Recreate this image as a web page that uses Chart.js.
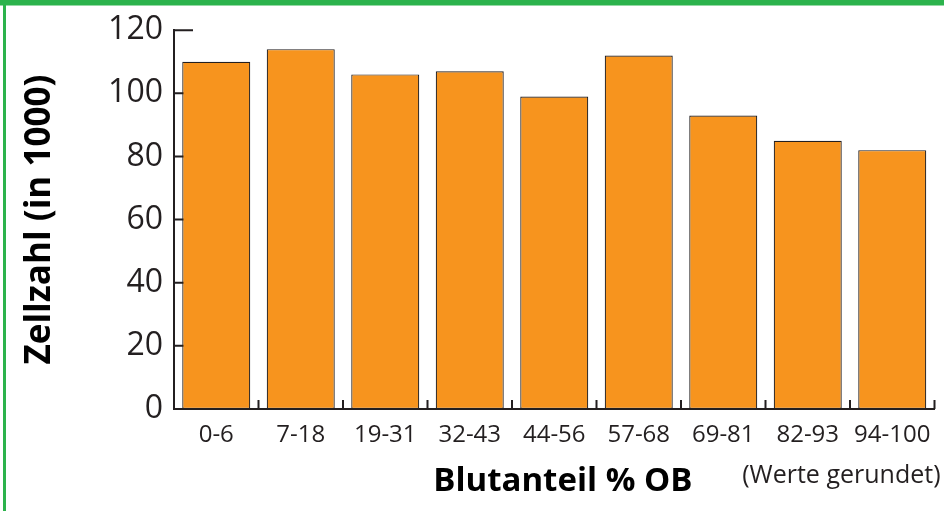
<!DOCTYPE html>
<html>
<head>
<meta charset="utf-8">
<script src="https://cdn.jsdelivr.net/npm/chart.js@4"></script>
<style>
  html, body { margin: 0; padding: 0; background: #fff; }
  canvas { display: block; }
</style>
</head>
<body>
<canvas id="graficoZellzahl" width="944" height="511"></canvas>
<script>
const kategorien = ['0-6', '7-18', '19-31', '32-43', '44-56', '57-68', '69-81', '82-93', '94-100'];
const zellzahl = [110, 114, 106, 107, 99, 112, 93, 85, 82];
const yTicks = [0, 20, 40, 60, 80, 100, 120];

const dunkel = '#231f20';
const gruen = '#2cb34c';

Chart.defaults.font.family = "'Open Sans', sans-serif";
Chart.defaults.color = dunkel;

// weisser Hintergrund + gruener Rahmen oben/links
const rahmen = {
  id: 'rahmen',
  beforeDraw(chart) {
    const { ctx, width, height } = chart;
    ctx.save();
    ctx.fillStyle = '#fff';
    ctx.fillRect(0, 0, width, height);
    ctx.fillStyle = gruen;
    ctx.fillRect(0, 0, width, 5.5);
    ctx.fillRect(3, 0, 3, height);
    ctx.restore();
  },
  afterDraw(chart) {
    const { ctx, chartArea } = chart;
    ctx.save();
    ctx.font = "25px 'Open Sans', sans-serif";
    ctx.fillStyle = dunkel;
    ctx.textAlign = 'right';
    ctx.textBaseline = 'middle';
    ctx.fillText('(Werte gerundet)', chartArea.right + 6, 476);
    ctx.restore();
  }
};

// kleine Striche nach innen an den Achsen
const innenTicks = {
  id: 'innenTicks',
  beforeDatasetsDraw(chart) {
    const { ctx, chartArea: a, scales: { x, y } } = chart;
    ctx.save();
    ctx.strokeStyle = dunkel;
    ctx.lineWidth = 2;
    ctx.beginPath();
    yTicks.forEach(v => {
      const py = y.getPixelForValue(v);
      ctx.moveTo(a.left, py);
      ctx.lineTo(a.left + 19, py);
    });
    for (let i = 0; i <= kategorien.length; i++) {
      const px = x.getPixelForValue(i - 0.5);
      ctx.moveTo(px, a.bottom);
      ctx.lineTo(px, a.bottom - 9);
    }
    ctx.stroke();
    ctx.restore();
  }
};

new Chart(document.getElementById('graficoZellzahl'), {
  type: 'bar',
  data: {
    labels: kategorien,
    datasets: [{
      label: 'Zellzahl',
      data: zellzahl,
      backgroundColor: '#f7941e',
      borderColor: dunkel,
      borderWidth: 1.2,
      borderSkipped: false,
      barPercentage: 0.805,
      categoryPercentage: 1
    }]
  },
  options: {
    responsive: false,
    animation: false,
    layout: { padding: { left: 0, right: 9.5, top: 30, bottom: 0 } },
    plugins: {
      legend: { display: false },
      tooltip: { enabled: false }
    },
    scales: {
      x: {
        grid: { display: false, drawTicks: false },
        border: { display: true, color: dunkel, width: 2 },
        ticks: { font: { size: 24 }, color: dunkel, padding: 12, maxRotation: 0, autoSkip: false },
        title: {
          display: true,
          text: '  Blutanteil % OB',
          color: '#000',
          font: { size: 33, weight: 'bold' },
          padding: { top: 0, bottom: 10 }
        },
        afterFit(scale) { scale.height = 102; }
      },
      y: {
        min: 0,
        max: 120,
        grid: { display: false, drawTicks: false },
        border: { display: true, color: dunkel, width: 2 },
        afterBuildTicks(scale) { scale.ticks = yTicks.map(v => ({ value: v })); },
        ticks: { font: { size: 32 }, color: dunkel, padding: 11 },
        title: {
          display: true,
          text: 'Zellzahl (in 1000)',
          color: '#000',
          font: { size: 35, weight: 'bold' },
          padding: { top: 19, bottom: 0 }
        },
        afterFit(scale) { scale.width = 174; }
      }
    }
  },
  plugins: [rahmen, innenTicks]
});
</script>
</body>
</html>
